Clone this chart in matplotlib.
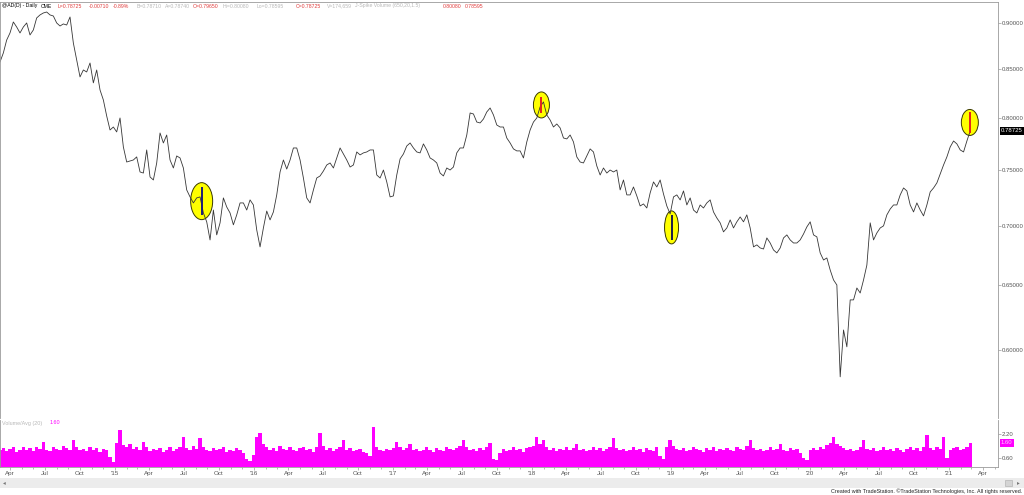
import matplotlib
matplotlib.use('Agg')
import matplotlib.pyplot as plt
import matplotlib.dates as mdates
import matplotlib.ticker as mticker
import matplotlib.transforms as mtransforms
from matplotlib.patches import Ellipse, Rectangle
import numpy as np
import pandas as pd

plt.rcParams['font.family'] = ['Liberation Sans', 'DejaVu Sans']

# @AD (AUD/USD futures) daily chart, closes (~every 9 days)
close = [
    0.8576, 0.8672, 0.8812, 0.8890, 0.9012, 0.8956, 0.8890, 0.8956, 0.9001, 0.8868,
    0.8923, 0.9057, 0.9091, 0.9113, 0.9124, 0.9091, 0.9079, 0.9001, 0.8967, 0.8990,
    0.8978, 0.9068, 0.8780, 0.8597, 0.8418, 0.8491, 0.8470, 0.8565, 0.8356, 0.8491,
    0.8283, 0.8181, 0.8020, 0.7882, 0.7911, 0.7863, 0.8000, 0.7718, 0.7575, 0.7585,
    0.7594, 0.7623, 0.7482, 0.7472, 0.7689, 0.7436, 0.7408, 0.7566, 0.7853, 0.7756,
    0.7833, 0.7594, 0.7519, 0.7632, 0.7613, 0.7519, 0.7317, 0.7254, 0.7200, 0.7245,
    0.7254, 0.7111, 0.7033, 0.6877, 0.7137, 0.6920, 0.7024, 0.7245, 0.7164, 0.7111,
    0.7007, 0.7094, 0.7200, 0.7200, 0.7137, 0.7227, 0.7182, 0.6963, 0.6818, 0.6980,
    0.7128, 0.7050, 0.7120, 0.7272, 0.7482, 0.7594, 0.7509, 0.7594, 0.7708, 0.7708,
    0.7594, 0.7426, 0.7245, 0.7200, 0.7317, 0.7426, 0.7445, 0.7491, 0.7547, 0.7566,
    0.7519, 0.7613, 0.7708, 0.7651, 0.7594, 0.7528, 0.7547, 0.7670, 0.7642, 0.7661,
    0.7670, 0.7689, 0.7689, 0.7454, 0.7426, 0.7500, 0.7390, 0.7254, 0.7263, 0.7454,
    0.7604, 0.7651, 0.7727, 0.7756, 0.7708, 0.7670, 0.7661, 0.7747, 0.7689, 0.7613,
    0.7594, 0.7566, 0.7472, 0.7445, 0.7519, 0.7500, 0.7528, 0.7661, 0.7708, 0.7708,
    0.7833, 0.8050, 0.8040, 0.7960, 0.7951, 0.7990, 0.8060, 0.8100, 0.8030, 0.7931,
    0.7911, 0.7911, 0.7804, 0.7756, 0.7699, 0.7680, 0.7680, 0.7613, 0.7766, 0.7882,
    0.7960, 0.8000, 0.8111, 0.8161, 0.8030, 0.7980, 0.7911, 0.7941, 0.7902, 0.7804,
    0.7795, 0.7833, 0.7766, 0.7623, 0.7575, 0.7566, 0.7632, 0.7699, 0.7670, 0.7538,
    0.7454, 0.7519, 0.7472, 0.7500, 0.7482, 0.7500, 0.7317, 0.7408, 0.7272, 0.7272,
    0.7344, 0.7263, 0.7173, 0.7191, 0.7155, 0.7290, 0.7390, 0.7344, 0.7408, 0.7281,
    0.7173, 0.7102, 0.7254, 0.7272, 0.7227, 0.7308, 0.7182, 0.7245, 0.7137, 0.7111,
    0.7182, 0.7155, 0.7200, 0.7227, 0.7120, 0.7067, 0.7024, 0.6946, 0.6980, 0.7050,
    0.6980, 0.7033, 0.7076, 0.7033, 0.7094, 0.6980, 0.6818, 0.6835, 0.6809, 0.6800,
    0.6894, 0.6851, 0.6792, 0.6767, 0.6809, 0.6894, 0.6920, 0.6877, 0.6851, 0.6851,
    0.6877, 0.6928, 0.6989, 0.7033, 0.6920, 0.6903, 0.6767, 0.6708, 0.6725, 0.6625,
    0.6544, 0.6503, 0.5803, 0.6150, 0.6023, 0.6384, 0.6384, 0.6479, 0.6439, 0.6544,
    0.6666, 0.7024, 0.6877, 0.6937, 0.6980, 0.6998, 0.7094, 0.7146, 0.7182, 0.7182,
    0.7272, 0.7335, 0.7308, 0.7182, 0.7120, 0.7200, 0.7137, 0.7085, 0.7182, 0.7299,
    0.7335, 0.7381, 0.7463, 0.7547, 0.7623, 0.7718, 0.7775, 0.7747, 0.7689, 0.7670,
    0.7775, 0.7873,
]

# Volume / 20-day average volume
vol_ratio = [
    1.10, 1.25, 1.05, 1.20, 1.30, 1.00, 1.15, 1.35, 1.10, 1.25, 1.05, 1.30, 1.20, 1.65, 1.15, 1.05, 1.30, 1.20, 1.10, 1.40,
    1.25, 1.15, 1.80, 1.30, 1.10, 1.20, 1.05, 1.35, 1.15, 1.25, 1.00, 1.20, 1.10, 0.65, 0.35, 1.60, 2.45, 1.45, 1.30, 1.50,
    1.20, 1.35, 1.15, 1.65, 1.30, 1.05, 1.20, 1.10, 1.25, 1.00, 1.15, 1.30, 1.05, 1.20, 1.35, 2.00, 1.25, 1.10, 1.40, 1.20,
    1.90, 1.30, 1.15, 1.05, 1.25, 1.10, 1.20, 1.35, 1.00, 1.15, 1.05, 1.25, 1.10, 0.90, 0.55, 0.40, 0.80, 2.00, 2.25, 1.50,
    1.30, 1.15, 1.25, 1.05, 1.40, 1.20, 1.10, 1.30, 1.15, 1.05, 1.25, 1.35, 1.10, 1.20, 1.00, 1.30, 2.25, 1.40, 1.15, 1.25,
    1.05, 1.20, 1.35, 1.80, 1.15, 1.25, 1.05, 1.10, 1.20, 1.00, 0.90, 0.70, 2.65, 1.30, 1.15, 1.05, 1.20, 1.10, 1.25, 1.65,
    1.30, 1.15, 1.25, 1.50, 1.10, 1.20, 1.05, 1.15, 1.30, 1.10, 1.00, 1.25, 1.15, 1.05, 1.35, 1.20, 1.10, 1.25, 1.40, 1.80,
    1.30, 1.15, 1.20, 1.05, 1.25, 1.10, 1.30, 1.60, 0.55, 0.45, 0.90, 1.20, 1.05, 1.15, 1.30, 1.10, 1.20, 1.00, 1.25, 1.35,
    1.40, 2.00, 1.55, 1.80, 1.30, 1.15, 1.25, 1.05, 1.20, 1.10, 1.30, 1.15, 1.25, 1.50, 1.10, 1.20, 1.05, 1.15, 1.30, 1.10,
    1.25, 1.05, 1.20, 1.35, 1.90, 1.25, 1.10, 1.20, 1.05, 1.15, 1.30, 1.10, 1.20, 1.00, 1.25, 1.15, 1.05, 1.30, 0.70, 0.50,
    1.30, 1.80, 1.40, 1.20, 1.10, 1.25, 1.05, 1.15, 1.30, 1.20, 1.10, 1.00, 1.25, 1.15, 1.35, 1.05, 1.20, 1.10, 1.25, 1.15,
    1.05, 1.30, 1.20, 1.10, 1.40, 1.80, 1.25, 1.10, 1.20, 1.05, 1.15, 1.30, 1.10, 1.20, 1.50, 1.15, 1.05, 1.25, 1.10, 1.20,
    0.95, 0.60, 0.45, 1.10, 1.25, 1.15, 1.30, 1.20, 1.45, 1.60, 2.00, 1.55, 1.40, 1.25, 1.10, 1.20, 1.05, 1.15, 1.30, 1.80,
    1.20, 1.10, 1.25, 1.05, 1.15, 1.30, 1.10, 1.20, 1.05, 1.25, 1.15, 1.00, 1.20, 1.35, 1.10, 1.25, 1.05, 1.30, 2.10, 1.25,
    1.15, 1.30, 1.20, 2.00, 0.60, 1.10, 1.25, 1.35, 1.15, 1.20, 1.30, 1.60,
]

dates = pd.date_range('2014-03-05', '2021-02-26', periods=len(close))

# J-Spike volume days (circled)
spike_dates = pd.to_datetime(['2015-08-17', '2018-01-26', '2019-01-03', '2021-02-25'])
spike_lo = [0.7094, 0.8050, 0.6877, 0.7853]
spike_hi = [0.7340, 0.8212, 0.7094, 0.8060]
spike_colors = ['#1c1c78', '#e3211c', '#1c1c48', '#e3211c']
ring_w = [22, 16, 14, 17]   # pixels
ring_h = [37, 26, 33, 26]

price_ticks = [0.60, 0.65, 0.70, 0.75, 0.80, 0.85, 0.90]
vol_ticks = [0.60, 2.20]
last_close = 0.78725
last_ratio = 1.60

W, H = 1024, 495
fig = plt.figure(figsize=(W / 100, H / 100), dpi=100)


def px_axes(x0, y0, x1, y1):
    return fig.add_axes([x0 / W, 1 - y1 / H, (x1 - x0) / W, (y1 - y0) / H])


ax = px_axes(0, 2, 998, 418)
axv = px_axes(0, 420, 998, 467)
x_lo, x_hi = pd.Timestamp('2014-03-05'), pd.Timestamp('2021-05-10')
axis_gray = '#9a9a9a'
label_gray = '#555555'

# ---- price panel ----
ax.plot(dates, close, color='#363636', lw=0.6, zorder=2)
for d, lo, hi, c, w, h in zip(spike_dates, spike_lo, spike_hi, spike_colors, ring_w, ring_h):
    tr = fig.dpi_scale_trans + mtransforms.ScaledTranslation(mdates.date2num(d), np.sqrt(lo * hi), ax.transData)
    ax.add_patch(Ellipse((0, 0), w / 100, h / 100, transform=tr, facecolor='#ffff00',
                         edgecolor='#3a3a00', lw=0.7, zorder=1))
    ax.vlines(d, lo, hi, color=c, lw=1.4, zorder=3)

ax.set_yscale('log')
ax.set_ylim(0.5514, 0.9238)
ax.set_xlim(x_lo, x_hi)
ax.yaxis.tick_right()
ax.yaxis.set_major_locator(mticker.FixedLocator(price_ticks))
ax.yaxis.set_major_formatter(mticker.FormatStrFormatter('%.5f'))
ax.yaxis.set_minor_locator(mticker.NullLocator())
ax.yaxis.set_minor_formatter(mticker.NullFormatter())
ax.tick_params(axis='y', length=2, width=0.5, pad=1, labelsize=4.3, color=axis_gray, labelcolor=label_gray)
ax.tick_params(axis='x', bottom=False, labelbottom=False)
for s in ['left', 'top', 'right']:
    ax.spines[s].set_color(axis_gray)
    ax.spines[s].set_linewidth(0.6)
ax.spines['bottom'].set_visible(False)

ax.text(1.003, last_close, f'{last_close:.5f}', transform=ax.get_yaxis_transform(),
        ha='left', va='center', fontsize=4.3, color='white', clip_on=False,
        bbox=dict(boxstyle='square,pad=0.2', fc='black', ec='none'))

# header line: each piece at its spot, pushed right if the previous one runs into it
header = [
    ('@AD(D) - Daily', 2, 'black'), ('CME', 37, 'black'),
    ('L=0.78725', 58, '#e03b3b'), ('-0.00710', 89, '#e03b3b'), ('-0.89%', 113, '#e03b3b'),
    ('B=0.78710', 137, '#b8b8b8'), ('A=0.78740', 165, '#b8b8b8'), ('O=0.79650', 193, '#e03b3b'),
    ('Hi=0.80080', 223, '#b8b8b8'), ('Lo=0.78595', 257, '#b8b8b8'), ('C=0.78725', 296, '#e03b3b'),
    ('V=174,659', 327, '#b8b8b8'), ('J-Spike Volume (650,20,1.5)', 354, '#b8b8b8'),
    ('0.80080', 443, '#e03b3b'), ('0.78595', 463, '#e03b3b'),
]
renderer = fig.canvas.get_renderer()
prev_end = -10
for txt, xp, c in header:
    xp = max(xp, prev_end + 3)
    t = fig.text(xp / W, 1 - 6 / H, txt, fontsize=3.7, color=c, ha='left', va='center')
    prev_end = t.get_window_extent(renderer).x1

# ---- volume panel ----
step = np.diff(mdates.date2num(dates)).mean()
axv.bar(dates, vol_ratio, width=step, color='#ff00ff', lw=0, align='center')
axv.set_xlim(x_lo, x_hi)
axv.set_ylim(0, 3.13)
axv.yaxis.tick_right()
axv.yaxis.set_major_locator(mticker.FixedLocator(vol_ticks))
axv.yaxis.set_major_formatter(mticker.FormatStrFormatter('%.2f'))
axv.tick_params(axis='y', length=2, width=0.5, pad=1, labelsize=4.3, color=axis_gray, labelcolor=label_gray)
axv.text(1.003, last_ratio, f'{last_ratio:.2f}', transform=axv.get_yaxis_transform(),
         ha='left', va='center', fontsize=4.3, color='#ffd0ff', clip_on=False,
         bbox=dict(boxstyle='square,pad=0.2', fc='#ff00ff', ec='none'))
for s in ['left', 'bottom', 'right']:
    axv.spines[s].set_color(axis_gray)
    axv.spines[s].set_linewidth(0.6)
axv.spines['top'].set_visible(False)


def month_label(x, pos):
    d = mdates.num2date(x)
    return "'" + d.strftime('%y') if d.month == 1 else d.strftime('%b')


axv.xaxis.set_major_locator(mdates.MonthLocator(bymonth=[1, 4, 7, 10]))
axv.xaxis.set_major_formatter(mticker.FuncFormatter(month_label))
axv.xaxis.set_minor_locator(mdates.MonthLocator())
axv.tick_params(axis='x', which='major', length=2, width=0.5, pad=1, labelsize=4.5,
                color=axis_gray, labelcolor=label_gray)
axv.tick_params(axis='x', which='minor', length=1.2, width=0.5, color=axis_gray)

fig.text(2 / W, 1 - 423 / H, 'Volume/Avg (20)', fontsize=3.9, color='#b8b8b8', ha='left', va='center')
fig.text(50 / W, 1 - 423 / H, f'{last_ratio:.2f}', fontsize=3.9, color='#ff00ff', ha='left', va='center')

# scroll bar strip and footer
fig.patches.append(Rectangle((0, 1 - 488 / H), 1, 10 / H, transform=fig.transFigure,
                             facecolor='#ececec', edgecolor='none'))
fig.text(4 / W, 1 - 483 / H, '\u25c2', fontsize=4, color='#777777', ha='center', va='center',
         family='DejaVu Sans')
fig.patches.append(Rectangle((1005 / W, 1 - 486 / H), 7 / W, 6 / H, transform=fig.transFigure,
                             facecolor='#d4d4d4', edgecolor='#aaaaaa', lw=0.4))
fig.text(1018 / W, 1 - 483 / H, '\u25b8', fontsize=4, color='#777777', ha='center', va='center',
         family='DejaVu Sans')
fig.text(1022 / W, 1 - 491.5 / H,
         'Created with TradeStation. \u00a9TradeStation Technologies, Inc. All rights reserved.',
         fontsize=3.9, color='#222222', ha='right', va='center')

fig.savefig('out.png', dpi=100)
